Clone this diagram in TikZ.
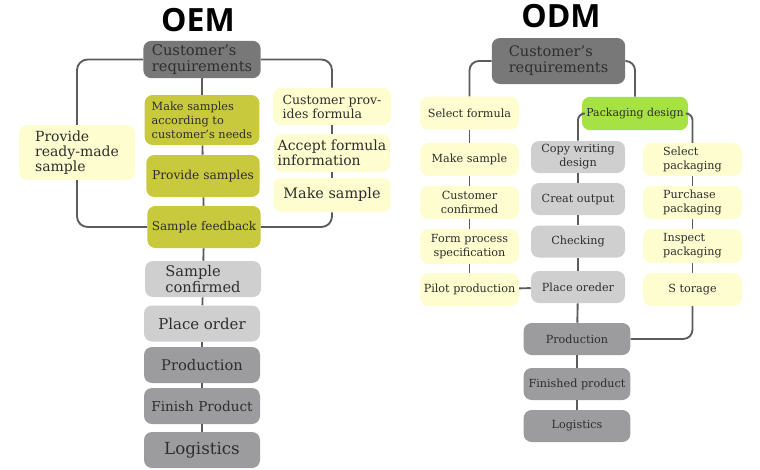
\documentclass[tikz,border=0pt]{standalone}
\usepackage{fontspec}
\setmainfont{DejaVu Serif}
\newfontfamily\headfont{Open Sans}
\usetikzlibrary{positioning}

\definecolor{txtC}{HTML}{2E2E2E}
\definecolor{lineC}{HTML}{5C5C5C}
\definecolor{ylwC}{HTML}{FDFDCF}
\definecolor{olvC}{HTML}{C9C93E}
\definecolor{lgrC}{HTML}{CFCFCF}
\definecolor{mgrC}{HTML}{9C9C9E}
\definecolor{dgrC}{HTML}{787878}
\definecolor{grnC}{HTML}{A6E244}

\newcommand\fsz[2]{\fontsize{#1}{#2}\selectfont}

\begin{document}
\begin{tikzpicture}[
    x=0.75pt, y=-0.75pt,
    box/.style={rounded corners=6pt, inner sep=1pt, align=center, text=txtC},
    ylw/.style={box, fill=ylwC},
    olv/.style={box, fill=olvC},
    lgr/.style={box, fill=lgrC},
    mgr/.style={box, fill=mgrC},
    dgr/.style={box, fill=dgrC},
    grn/.style={box, fill=grnC},
    oemW/.style={minimum width=87pt, minimum height=27pt},
    odmL/.style={minimum width=74pt, minimum height=24.5pt, font=\fsz{8.4}{10.5}},
    odmM/.style={minimum width=70.5pt, minimum height=24pt, font=\fsz{8.4}{10.5}},
    conn/.style={draw=lineC, line width=1.4pt},
    title/.style={font=\headfont\bfseries\fontsize{24}{24}\selectfont, text=black}
]
    \useasboundingbox (0,0) rectangle (760,469);

    % --- OEM ---
    \node[title] (oemT) at (198,20) {OEM};

    \node[dgr, oemW, minimum width=88pt, minimum height=28pt, font=\fsz{11}{12}, align=left] (req) at (202,59.5) {Customer's\\requirements};

    % sample loop (middle)
    \node[olv, minimum width=86pt, minimum height=37.5pt, font=\fsz{8.5}{10.5}, align=left] (mks) at (202,120) {Make samples\\according to\\customer's needs};
    \node[olv, minimum width=85pt, minimum height=31.5pt, font=\fsz{9.2}{11}] (prov) at (203,176) {Provide samples};
    \node[olv, minimum width=85pt, minimum height=31.5pt, font=\fsz{9}{11}] (feed) at (204,227) {Sample feedback};

    % left and right branches
    \node[ylw, minimum width=87pt, minimum height=41pt, font=\fsz{10.5}{11.3}, align=left] (ready) at (77,152.5) {Provide\\ready-made\\sample};
    \node[ylw, minimum width=88.5pt, minimum height=28pt, font=\fsz{9.4}{10.5}, align=left] (cprov) at (332,106.5) {Customer prov-\\ides formula};
    \node[ylw, minimum width=87pt, minimum height=28.5pt, font=\fsz{10.5}{11}, align=left] (accept) at (332,153) {Accept formula\\information};
    \node[ylw, minimum width=88pt, minimum height=25.5pt, font=\fsz{10.8}{12}] (mk) at (332,195) {Make sample};

    % order chain
    \node[lgr, oemW, font=\fsz{11}{12}, align=left] (conf) at (203,279) {Sample\\confirmed};
    \node[lgr, oemW, font=\fsz{11.2}{12}] (order) at (202,323.5) {Place order};
    \node[mgr, oemW, font=\fsz{11}{12}] (prod) at (202,365) {Production};
    \node[mgr, oemW, font=\fsz{10.2}{12}] (fin) at (202,406) {Finish Product};
    \node[mgr, oemW, font=\fsz{12.5}{14}] (logi) at (202,450) {Logistics};

    \draw[conn, rounded corners=8pt] (req.west) -| (ready.north);
    \draw[conn, rounded corners=8pt] (ready.south) |- (feed.west);
    \draw[conn, rounded corners=8pt] (feed.east) -| (mk.south);
    \draw[conn, rounded corners=8pt] (cprov.north) |- (req.east);
    \draw[conn] (cprov) -- (accept);
    \draw[conn] (accept) -- (mk);
    \draw[conn] (req) -- (mks);
    \draw[conn] (mks) -- (prov);
    \draw[conn] (prov) -- (feed);
    \draw[conn] (feed) -- (conf);
    \draw[conn] (conf) -- (order);
    \draw[conn] (order) -- (prod);
    \draw[conn] (prod) -- (fin);
    \draw[conn] (fin) -- (logi);

    % --- ODM ---
    \node[title] (odmT) at (561,16) {ODM};

    \node[dgr, minimum width=100pt, minimum height=34.5pt, font=\fsz{10.9}{12}, align=left] (req2) at (558.5,61) {Customer's\\requirements};

    % formula column
    \node[ylw, odmL] (selform) at (469.5,113) {Select formula};
    \node[ylw, odmL] (mksamp) at (469.5,159.5) {Make sample};
    \node[ylw, odmL] (cconf) at (469.5,202.5) {Customer\\confirmed};
    \node[ylw, odmL, minimum height=26pt] (formproc) at (469.5,246.5) {Form process\\specification};
    \node[ylw, odmL] (pilot) at (469.5,289.5) {Pilot production};

    % packaging
    \node[grn, minimum width=79.5pt, minimum height=25pt, font=\fsz{8.2}{10}] (pack) at (635,113.5) {Packaging design};

    % design column
    \node[lgr, odmM] (copy) at (578,157) {Copy writing\\design};
    \node[lgr, odmM] (creat) at (578,199) {Creat output};
    \node[lgr, odmM] (check) at (578,241.5) {Checking};
    \node[lgr, odmM] (porder) at (578,287) {Place oreder};

    % package column
    \node[ylw, odmL, align=left] (selpack) at (692.5,159.5) {Select\\packaging};
    \node[ylw, odmL, align=left] (purch) at (692.5,202.5) {Purchase\\packaging};
    \node[ylw, odmL, align=left, minimum height=25.5pt] (insp) at (692.5,246) {Inspect\\packaging};
    \node[ylw, odmL] (stor) at (692.5,289.5) {S torage};

    % production chain
    \node[mgr, odmL, minimum width=80pt, minimum height=24pt] (prod2) at (577,339) {Production};
    \node[mgr, odmL, minimum width=80pt, minimum height=24pt] (fin2) at (577,384) {Finished product};
    \node[mgr, odmL, minimum width=80pt, minimum height=24pt] (logi2) at (577,426) {Logistics};

    \draw[conn, rounded corners=7pt] (req2.west) -| (selform.north);
    \draw[conn, rounded corners=7pt] (req2.east) -| (pack.north);
    \draw[conn, rounded corners=5pt] (pack.west) -| (copy.north);
    \draw[conn, rounded corners=5pt] (pack.east) -| (selpack.north);
    \draw[conn] (selform) -- (mksamp);
    \draw[conn] (mksamp) -- (cconf);
    \draw[conn] (cconf) -- (formproc);
    \draw[conn] (formproc) -- (pilot);
    \draw[conn] (pilot) -- (porder);
    \draw[conn] (copy) -- (creat);
    \draw[conn] (creat) -- (check);
    \draw[conn] (check) -- (porder);
    \draw[conn] (porder) -- (prod2);
    \draw[conn] (prod2) -- (fin2);
    \draw[conn] (fin2) -- (logi2);
    \draw[conn] (selpack) -- (purch);
    \draw[conn] (purch) -- (insp);
    \draw[conn] (insp) -- (stor);
    \draw[conn, rounded corners=7pt] (stor.south) |- (prod2.east);

\end{tikzpicture}
\end{document}
